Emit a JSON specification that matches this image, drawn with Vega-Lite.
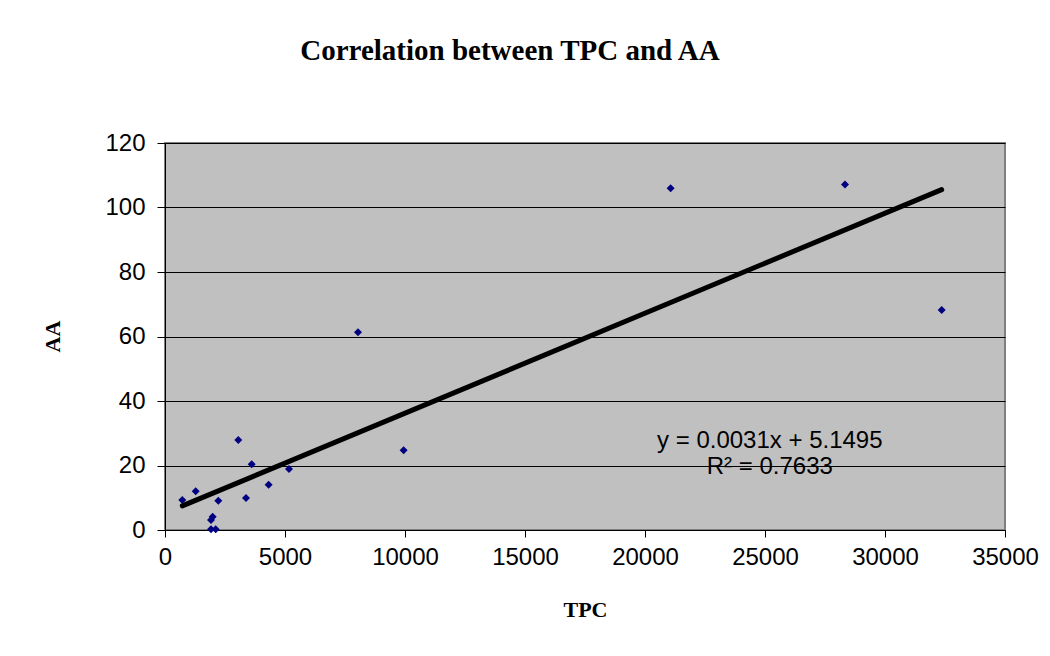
{
  "$schema": "https://vega.github.io/schema/vega-lite/v6.json",
  "width": 840,
  "height": 387,
  "autosize": {"type": "none"},
  "padding": {"left": 165, "top": 143, "right": 45, "bottom": 126},
  "background": "white",
  "title": {
    "text": "Correlation between TPC and AA",
    "font": "Liberation Serif",
    "fontSize": 29,
    "fontWeight": "bold",
    "color": "black",
    "anchor": "middle",
    "frame": "group",
    "dx": -75,
    "baseline": "alphabetic",
    "offset": 42
  },
  "config": {
    "view": {"fill": "#C0C0C0", "stroke": "#808080", "strokeWidth": 2},
    "axis": {
      "labelFont": "Liberation Sans",
      "labelFontSize": 24,
      "labelColor": "black",
      "titleFont": "Liberation Serif",
      "titleFontSize": 22,
      "titleFontWeight": "bold",
      "titleColor": "black",
      "domainColor": "black",
      "tickColor": "black",
      "gridColor": "black",
      "gridWidth": 1,
      "gridOpacity": 1
    }
  },
  "data": {
    "values": [
      {"TPC": 721, "AA": 9.3},
      {"TPC": 1278, "AA": 12.0},
      {"TPC": 1917, "AA": 3.1},
      {"TPC": 1986, "AA": 4.1},
      {"TPC": 1917, "AA": 0.2},
      {"TPC": 2111, "AA": 0.2},
      {"TPC": 2222, "AA": 9.1},
      {"TPC": 3055, "AA": 27.9},
      {"TPC": 3375, "AA": 9.9},
      {"TPC": 3611, "AA": 20.4},
      {"TPC": 4319, "AA": 14.0},
      {"TPC": 5167, "AA": 18.9},
      {"TPC": 8042, "AA": 61.3},
      {"TPC": 9944, "AA": 24.7},
      {"TPC": 21069, "AA": 106.0},
      {"TPC": 28333, "AA": 107.1},
      {"TPC": 32361, "AA": 68.2}
    ]
  },
  "layer": [
    {
      "mark": {"type": "point", "shape": "diamond", "filled": true, "color": "#000080", "size": 64, "opacity": 1},
      "encoding": {
        "x": {
          "field": "TPC", "type": "quantitative",
          "scale": {"domain": [0, 35000], "nice": false, "zero": true},
          "axis": {
            "values": [0, 5000, 10000, 15000, 20000, 25000, 30000, 35000],
            "grid": false,
            "format": "d",
            "tickSize": 7,
            "labelPadding": 8,
            "labelFlush": false,
            "title": "TPC",
            "titleBaseline": "alphabetic",
            "titleY": 86,
            "titleX": 420
          }
        },
        "y": {
          "field": "AA", "type": "quantitative",
          "scale": {"domain": [0, 120], "nice": false},
          "axis": {
            "values": [0, 20, 40, 60, 80, 100, 120],
            "grid": true,
            "tickSize": 8,
            "labelPadding": 12,
            "labelFlush": false,
            "title": "AA",
            "titleAngle": -90,
            "titleBaseline": "middle",
            "titleX": -113,
            "titleY": 193
          }
        }
      }
    },
    {
      "transform": [{"regression": "AA", "on": "TPC", "method": "linear"}],
      "mark": {"type": "line", "color": "black", "strokeWidth": 5, "strokeCap": "round"},
      "encoding": {
        "x": {"field": "TPC", "type": "quantitative"},
        "y": {"field": "AA", "type": "quantitative"}
      }
    },
    {
      "data": {"values": [{}]},
      "mark": {"type": "text", "font": "Liberation Sans", "fontSize": 24, "color": "black", "align": "center", "baseline": "middle"},
      "encoding": {
        "x": {"datum": 25200, "type": "quantitative"},
        "y": {"datum": 27.6, "type": "quantitative"},
        "text": {"value": "y = 0.0031x + 5.1495"}
      }
    },
    {
      "data": {"values": [{}]},
      "mark": {"type": "text", "font": "Liberation Sans", "fontSize": 24, "color": "black", "align": "center", "baseline": "middle"},
      "encoding": {
        "x": {"datum": 25200, "type": "quantitative"},
        "y": {"datum": 19.5, "type": "quantitative"},
        "text": {"value": "R² = 0.7633"}
      }
    }
  ]
}
